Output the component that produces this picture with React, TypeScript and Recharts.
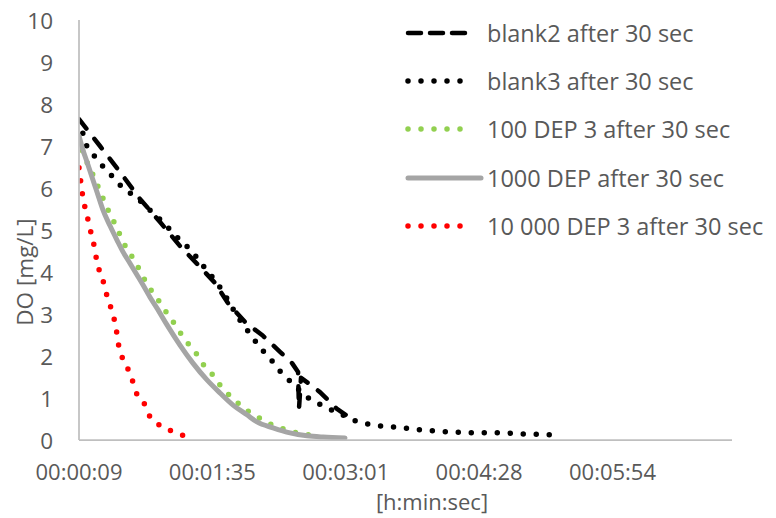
import React from "react";
import { Legend, Line, LineChart, XAxis, YAxis } from "recharts";

// time in seconds, DO in mg/L
const blank2Time = [9, 22.6, 35.6, 48.5, 61.5, 74.4, 87.4, 97.1, 105.5, 116.5, 128.2, 139.2, 147.0, 150.9, 151.5, 152.8, 157.3, 165.1, 176.1, 187.8];
const blank2DO = [7.64, 7.0, 6.38, 5.74, 5.19, 4.62, 4.12, 3.74, 3.26, 2.81, 2.48, 2.1, 1.83, 1.62, 0.74, 1.48, 1.36, 1.14, 0.74, 0.45];

const blank3Time = [9, 11.6, 14.2, 19.4, 25.2, 31.0, 36.9, 44.0, 50.5, 57.0, 63.4, 69.9, 76.4, 82.2, 87.4, 93.9, 100.3, 106.2, 111.4, 116.5, 121.7, 126.9, 132.7, 137.9, 144.4, 150.2, 156.7, 164.5, 172.9, 181.3, 188.4, 196.2, 205.3, 213.7, 231.2, 248.0, 265.5, 283.0, 299.9, 317.4];
const blank3DO = [7.6, 7.29, 6.98, 6.74, 6.48, 6.26, 6.02, 5.83, 5.64, 5.4, 5.19, 4.93, 4.69, 4.5, 4.24, 3.95, 3.64, 3.29, 2.95, 2.69, 2.43, 2.17, 1.95, 1.69, 1.45, 1.24, 1.02, 0.86, 0.71, 0.57, 0.45, 0.38, 0.33, 0.31, 0.24, 0.19, 0.17, 0.17, 0.14, 0.12];

const dep100Time = [9, 12.9, 16.1, 19.4, 22.6, 25.8, 29.7, 33.6, 36.9, 41.4, 45.9, 49.8, 54.3, 59.5, 64.1, 69.2, 73.8, 79.0, 84.8, 89.3, 95.2, 100.3, 105.5, 112.6, 119.1, 126.9, 134.0, 141.8, 150.2, 158.6];
const dep100DO = [7.19, 6.71, 6.48, 6.19, 5.93, 5.64, 5.33, 5.05, 4.76, 4.48, 4.21, 3.93, 3.64, 3.38, 3.12, 2.86, 2.6, 2.33, 2.07, 1.81, 1.57, 1.31, 1.1, 0.86, 0.67, 0.5, 0.36, 0.26, 0.17, 0.12];

const dep1000Time = [9, 11.6, 14.2, 17.4, 20.7, 24.5, 29.1, 33.6, 37.5, 42.0, 46.6, 50.5, 55.0, 59.5, 66.0, 74.4, 82.8, 91.9, 100.3, 108.8, 117.8, 124.3, 134.7, 145.7, 156.7, 167.1, 181.3];
const dep1000DO = [7.24, 6.9, 6.62, 6.26, 5.9, 5.48, 5.1, 4.76, 4.48, 4.21, 3.93, 3.69, 3.4, 3.14, 2.74, 2.26, 1.83, 1.43, 1.12, 0.83, 0.6, 0.43, 0.29, 0.17, 0.1, 0.07, 0.05];

const dep10000Time = [9, 10.3, 11.6, 13.5, 15.5, 17.4, 19.4, 20.7, 23.9, 25.8, 28.4, 31.0, 33.0, 34.3, 36.2, 40.1, 43.3, 45.9, 51.1, 54.3, 60.2, 67.3, 75.7, 84.1];
const dep10000DO = [6.48, 6.1, 5.76, 5.45, 5.14, 4.83, 4.52, 4.21, 3.9, 3.6, 3.29, 2.98, 2.67, 2.33, 2.05, 1.74, 1.45, 1.14, 0.88, 0.6, 0.38, 0.24, 0.12, 0.05];

const xTicks = [9, 95.4, 181.8, 268.2, 354.6];
const xTickLabels = ["00:00:09", "00:01:35", "00:03:01", "00:04:28", "00:05:54"];
const yTicks = [0, 1, 2, 3, 4, 5, 6, 7, 8, 9, 10];

const FONT = "'Open Sans', sans-serif";
const TEXT = "#595959";
const AXIS = "#bfbfbf";

const toRows = (t: number[], v: number[]) => t.map((x, i) => ({ t: x, v: v[i] }));

const SERIES = [
  { name: "blank2 after 30 sec", data: toRows(blank2Time, blank2DO), color: "#000000", width: 4.5, dash: "12 13", curve: "linear" },
  { name: "blank3 after 30 sec", data: toRows(blank3Time, blank3DO), color: "#000000", width: 5.5, dash: "0 13", curve: "linear" },
  { name: "100 DEP 3 after 30 sec", data: toRows(dep100Time, dep100DO), color: "#92d050", width: 5.5, dash: "0 13", curve: "monotone" },
  { name: "1000 DEP after 30 sec", data: toRows(dep1000Time, dep1000DO), color: "#a5a5a5", width: 5, dash: undefined, curve: "monotone" },
  { name: "10 000 DEP 3 after 30 sec", data: toRows(dep10000Time, dep10000DO), color: "#ff0000", width: 5.5, dash: "0 13", curve: "monotone" },
];

function XTick(props: any) {
  const i = xTicks.indexOf(props.payload.value);
  return (
    <text x={props.x} y={471} textAnchor="middle" dominantBaseline="central" fontFamily={FONT} fontSize={22} fill={TEXT}>
      {xTickLabels[i] ?? ""}
    </text>
  );
}

function YTick(props: any) {
  return (
    <text x={53} y={props.y} textAnchor="end" dominantBaseline="central" fontFamily={FONT} fontSize={22.5} fill={TEXT}>
      {props.payload.value}
    </text>
  );
}

function LegendBox() {
  return (
    <div>
      {SERIES.map((s, i) => (
        <div key={s.name} style={{ position: "absolute", left: 0, top: i * 48.2, height: 44, display: "flex", alignItems: "center" }}>
          <svg width={82} height={44} style={{ display: "block" }}>
            <line
              x1={3}
              y1={22}
              x2={s.dash ? 65 : 76}
              y2={22}
              stroke={s.color}
              strokeWidth={s.width}
              strokeDasharray={s.dash === "12 13" ? "13 9" : s.dash}
              strokeLinecap="round"
            />
          </svg>
          <span style={{ fontFamily: FONT, fontSize: 23.5, color: TEXT, whiteSpace: "nowrap" }}>{s.name}</span>
        </div>
      ))}
    </div>
  );
}

export default function App() {
  return (
    <div style={{ position: "absolute", left: 0, top: 0, background: "#fff" }}>
      <LineChart width={776} height={518} margin={{ top: 20, right: 44, bottom: 0, left: 0 }}>
        <XAxis
          type="number"
          dataKey="t"
          domain={[9, 432]}
          allowDataOverflow
          ticks={xTicks}
          tick={<XTick />}
          tickLine={false}
          axisLine={{ stroke: AXIS, strokeWidth: 1.75 }}
          height={78}
          label={{
            content: () => (
              <text x={432} y={501} textAnchor="middle" dominantBaseline="central" fontFamily={FONT} fontSize={22} fill={TEXT}>
                [h:min:sec]
              </text>
            ),
          }}
        />
        <YAxis
          type="number"
          domain={[0, 10]}
          ticks={yTicks}
          tick={<YTick />}
          tickLine={false}
          axisLine={{ stroke: AXIS, strokeWidth: 1.75 }}
          width={79}
          label={{
            content: () => (
              <text
                x={24}
                y={272}
                transform="rotate(-90, 24, 272)"
                textAnchor="middle"
                dominantBaseline="central"
                fontFamily={FONT}
                fontSize={22.5}
                fill={TEXT}
              >
                DO [mg/L]
              </text>
            ),
          }}
        />
        {SERIES.map((s) => (
          <Line
            key={s.name}
            data={s.data}
            dataKey="v"
            name={s.name}
            type={s.curve as any}
            stroke={s.color}
            strokeWidth={s.width}
            strokeDasharray={s.dash}
            strokeLinecap="round"
            strokeLinejoin="round"
            dot={false}
            activeDot={false}
            isAnimationActive={false}
          />
        ))}
        <Legend
          layout="vertical"
          align="center"
          verticalAlign="middle"
          content={() => <LegendBox />}
          wrapperStyle={{ left: 405, top: 11, width: 371, height: 240 }}
        />
      </LineChart>
    </div>
  );
}
